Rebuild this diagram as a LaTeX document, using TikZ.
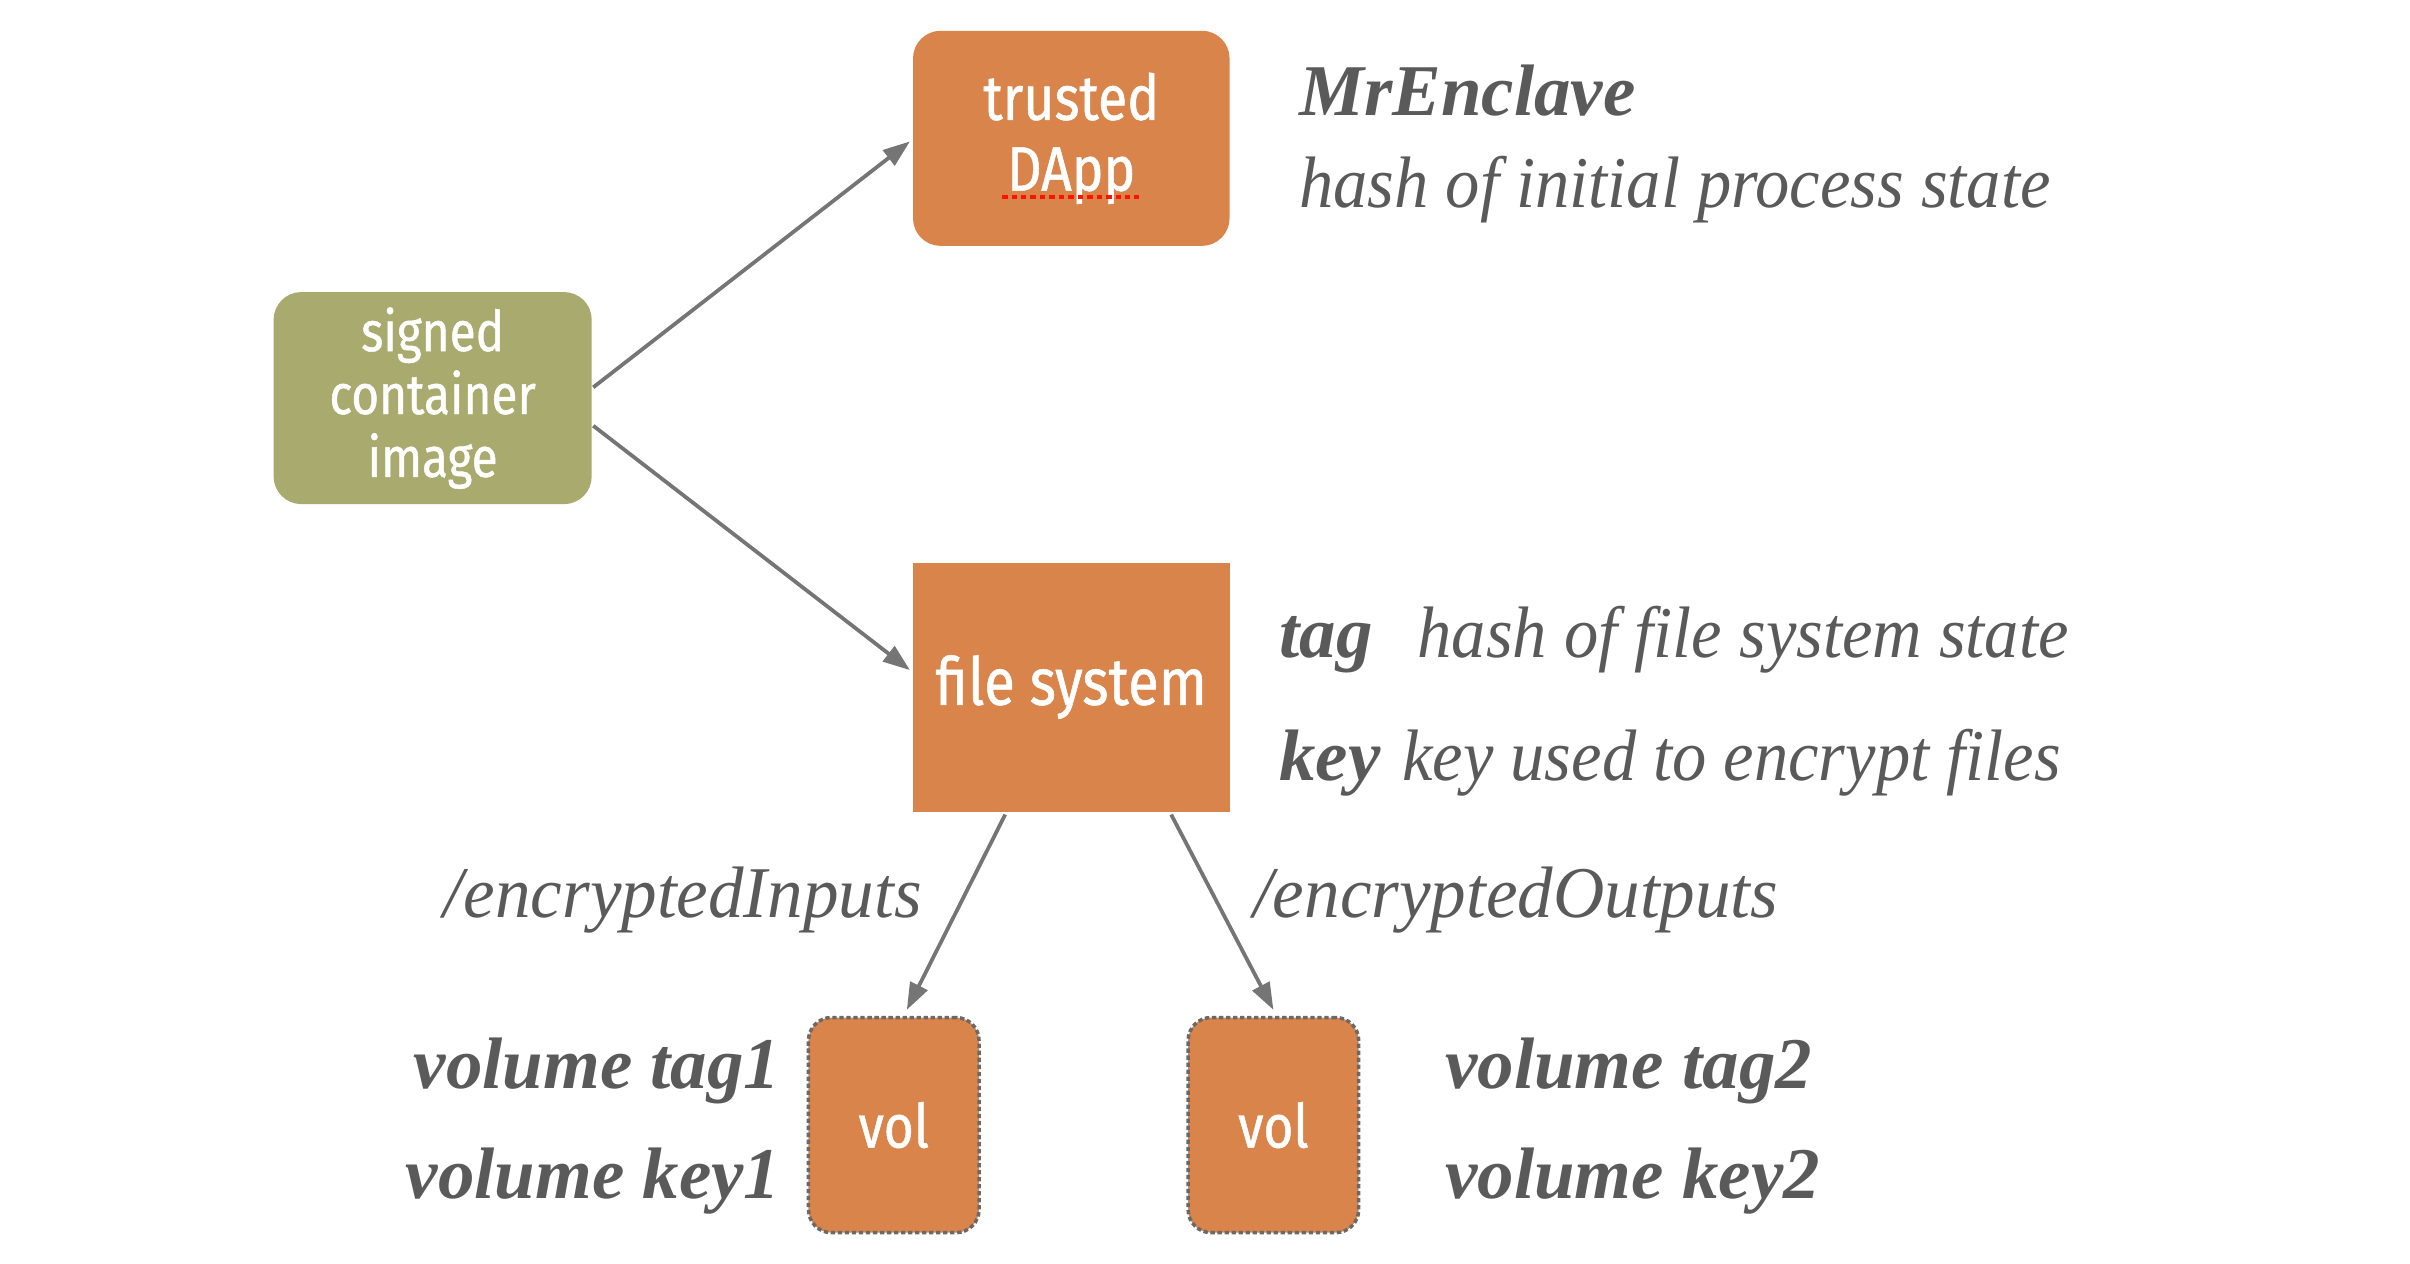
\documentclass[tikz,border=0pt]{standalone}
\usepackage{fontspec}
\usetikzlibrary{arrows.meta,calc}
\newfontfamily\boxfont[FakeStretch=0.85,FakeBold=0.8]{Fira Sans}
\newfontfamily\labfont[FakeStretch=0.94]{Liberation Serif}
\newfontfamily\labfontw[FakeStretch=0.975]{Liberation Serif}
\newfontfamily\labbfont{Liberation Serif}
\definecolor{orng}{RGB}{217,132,74}
\definecolor{olivebox}{RGB}{169,170,109}
\definecolor{txtgray}{RGB}{90,90,90}
\definecolor{arrgray}{RGB}{117,117,117}
\definecolor{dashgray}{RGB}{105,105,105}
\begin{document}
\begin{tikzpicture}[x=0.02cm,y=-0.02cm,
  box/.style={inner sep=0pt, outer sep=0pt, text=white, align=center},
  roundbox/.style={box, rounded corners=0.36cm},
  volbox/.style={box, fill=orng, rounded corners=0.3cm, draw=dashgray,
    line width=1.3pt, dash pattern=on 1.6pt off 1pt,
    minimum width=2.22cm, minimum height=2.8cm,
    font=\boxfont\fontsize{22.5}{26}\selectfont},
  lab/.style={inner sep=0pt, text=txtgray, font=\labfont\itshape\fontsize{27}{30}\selectfont},
  labw/.style={inner sep=0pt, text=txtgray, font=\labfontw\itshape\fontsize{27}{30}\selectfont},
  labb/.style={inner sep=0pt, text=txtgray, font=\labbfont\itshape\bfseries\fontsize{27}{30}\selectfont},
  arr/.style={draw=arrgray, line width=1.4pt, -{Triangle[length=10pt,width=7pt]}}]
\useasboundingbox (0,0) rectangle (1568,822);

% boxes
\node[roundbox, fill=olivebox, minimum width=4.14cm, minimum height=2.76cm,
  font=\boxfont\fontsize{20.8}{23.3}\selectfont] (sci) at (281.5,259) {signed\\container\\image};
\node[roundbox, fill=orng, minimum width=4.12cm, minimum height=2.8cm,
  font=\boxfont\fontsize{23.3}{26.2}\selectfont] (dapp) at (697,90) {trusted\\DApp};
\node[box, fill=orng, minimum width=4.12cm, minimum height=3.24cm,
  font=\boxfont\fontsize{24.5}{28}\selectfont] (fs) at (697,447) {file system};
\node[volbox] (vol1) at (581.5,732) {vol};
\node[volbox] (vol2) at (828.5,732) {vol};

% spell-check underline
\draw[red!85!orange, line width=1.6pt, dash pattern=on 2pt off 1.5pt] ($(dapp.center)+(-45,38)$) -- ($(dapp.center)+(44,38)$);

% arrows
\draw[arr] ($(sci.east)+(1,-7)$) -- ($(dapp.west)+(-2,2)$);
\draw[arr] ($(sci.east)+(1,18)$) -- ($(fs.west)+(-2,-11)$);
\draw[arr] ($(fs.south)+(-43,2)$) -- ($(vol1.north)+(8.5,-5)$);
\draw[arr] ($(fs.south)+(65,2)$) -- ($(vol2.north)+(0,-5)$);

% labels
\node[labb, anchor=base west] (mre) at (845,75) {MrEnclave};
\node[lab, anchor=base west] (mreh) at (845,135) {hash of initial process state};
\node[labb, anchor=base west] (tag) at (832,428) {tag};
\node[lab, anchor=base west] (tagh) at (922,428) {hash of file system state};
\node[labb, anchor=base west] (key) at (832,508) {key};
\node[lab, anchor=base west] (keyh) at (912,508) {key used to encrypt files};
\node[labw, anchor=base east] (ein) at (600,597) {/encryptedInputs};
\node[labw, anchor=base west] (eout) at (815,597) {/encryptedOutputs};
\node[labb, anchor=base east] (vt1) at (508,708) {volume tag1};
\node[labb, anchor=base east] (vk1) at (508,780) {volume key1};
\node[labb, anchor=base west] (vt2) at (940,708) {volume tag2};
\node[labb, anchor=base west] (vk2) at (940,780) {volume key2};
\end{tikzpicture}
\end{document}
